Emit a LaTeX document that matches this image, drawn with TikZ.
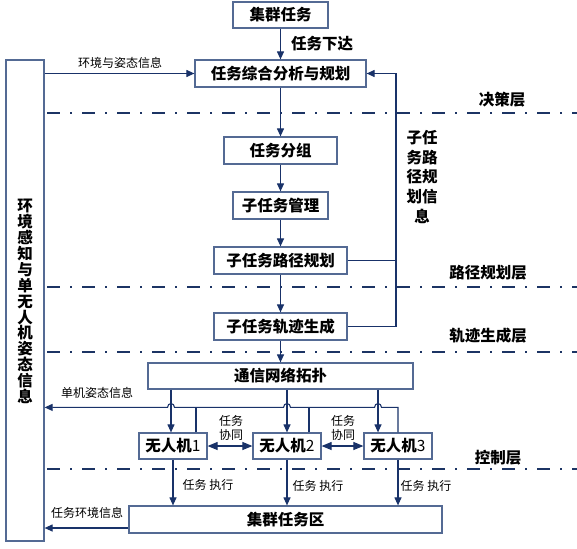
\documentclass[tikz,border=0pt]{standalone}
\usepackage{fontspec}
\setmainfont{Noto Sans CJK SC}
\usetikzlibrary{arrows.meta,calc}
\definecolor{boxc}{RGB}{84,106,148}
\definecolor{arrc}{RGB}{25,50,105}
\definecolor{layc}{RGB}{28,52,100}
\begin{document}
\begin{tikzpicture}[x=1pt,y=-1pt,
  box/.style={draw=boxc,line width=1.2pt,fill=white,inner sep=0pt,font=\bfseries\fontsize{15.5}{18}\selectfont},
  arr/.style={draw=arrc,line width=1.1pt,-{Triangle[length=8pt,width=7pt]}},
  darr/.style={draw=arrc,line width=1.1pt,{Triangle[length=10pt,width=8pt]}-{Triangle[length=10pt,width=8pt]}},
  ln/.style={draw=arrc,line width=1.1pt},
  lay/.style={draw=layc,line width=2pt,dash pattern=on 13pt off 10pt on 2pt off 10pt},
  small/.style={font=\fontsize{12}{14}\selectfont,inner sep=0pt,align=center},
  big/.style={font=\bfseries\fontsize{15.5}{18}\selectfont,inner sep=0pt,align=center}]
\useasboundingbox (0,0) rectangle (577,548);
% layer lines
\coordinate (L1s) at (47,113); \coordinate (L1e) at (577,113);
\coordinate (L2s) at (47,287); \coordinate (L2e) at (577,287);
\coordinate (L3s) at (47,352); \coordinate (L3e) at (577,352);
\coordinate (L4s) at (47,469); \coordinate (L4e) at (577,469);
\draw[lay] (L1s) -- (L1e);
\draw[lay] (L2s) -- (L2e);
\draw[lay] (L3s) -- (L3e);
\draw[lay] (L4s) -- (L4e);
% boxes
\node[box,minimum width=95pt,minimum height=26pt] (top) at (280.5,15) {集群任务};
\node[box,minimum width=171pt,minimum height=27pt] (plan) at (280.5,73.5) {任务综合分析与规划};
\node[box,minimum width=38pt,minimum height=481pt] (left) at (25,300.5) {};
\node[big,font=\bfseries\fontsize{15.5}{15.9}\selectfont] (lefttxt) at (25,301.5) {环\\境\\感\\知\\与\\单\\无\\人\\机\\姿\\态\\信\\息};
\node[box,minimum width=113pt,minimum height=27pt] (group) at (280.5,150.5) {任务分组};
\node[box,minimum width=95pt,minimum height=27pt] (manage) at (280.5,205.5) {子任务管理};
\node[box,minimum width=133pt,minimum height=27pt] (path) at (280.5,260.5) {子任务路径规划};
\node[box,minimum width=133pt,minimum height=27pt] (traj) at (280.5,326.5) {子任务轨迹生成};
\node[box,minimum width=265pt,minimum height=26pt] (comm) at (280.5,376) {通信网络拓扑};
\node[box,minimum width=68pt,minimum height=26pt] (u1) at (173,446) {无人机{\mdseries 1}};
\node[box,minimum width=68pt,minimum height=26pt] (u2) at (287,446) {无人机{\mdseries 2}};
\node[box,minimum width=68pt,minimum height=26pt] (u3) at (398,446) {无人机{\mdseries 3}};
\node[box,minimum width=313pt,minimum height=27pt] (area) at (285.5,519.5) {集群任务区};
% labels
\node[big] (lxd) at (322,44) {任务下达};
\node[big] (ljc) at (502,100) {决策层};
\node[big] (llj) at (488,273) {路径规划层};
\node[big] (lgj) at (488,336) {轨迹生成层};
\node[big] (lkz) at (498,458) {控制层};
\node[big,font=\bfseries\fontsize{15.5}{19.7}\selectfont] (lfb) at (422,177) {子任\\务路\\径规\\划信\\息};
\node[small] (lhj) at (120,63) {环境与姿态信息};
\node[small] (ldj) at (97,393) {单机姿态信息};
\node[small] (lrw) at (87,513) {任务环境信息};
\node[small] (lxt1) at (231,428) {任务\\协同};
\node[small] (lxt2) at (343,428) {任务\\协同};
\node[small] (lzx1) at (208,485) {任务 执行};
\node[small] (lzx2) at (318,486) {任务 执行};
\node[small] (lzx3) at (426,486) {任务 执行};
% main flow
\draw[arr] (top) -- (plan);
\draw[arr] (plan) -- (group);
\draw[arr] (group) -- (manage);
\draw[arr] (manage) -- (path);
\draw[arr] (path) -- (traj);
\draw[arr] (traj) -- (comm);
\draw[arr] (plan.west -| left.east) -- (plan.west);
% feedback
\coordinate (fb) at (396,73.5);
\draw[arr] (traj.east) -| (fb) -- (plan.east);
\draw[ln] (path.east) -- (path.east -| fb);
% comm to uavs
\coordinate (a1) at ($(u1.north)+(-2,0)$);
\coordinate (a2) at (u2.north);
\coordinate (a3) at ($(u3.north)+(-20,0)$);
\draw[arr] (comm.south -| a1) -- (a1);
\draw[arr] (comm.south -| a2) -- (a2);
\draw[arr] (comm.south -| a3) -- (a3);
% pose feedback with hops
\draw[arr] (u3.north) -- ++(0,-25) coordinate (h)
  -- ($(h -| a3)+(3.5,0)$) .. controls +(0,-5) and +(0,-5) .. ($(h -| a3)+(-3.5,0)$)
  -- ($(h -| a2)+(3.5,0)$) .. controls +(0,-5) and +(0,-5) .. ($(h -| a2)+(-3.5,0)$)
  -- ($(h -| a1)+(3.5,0)$) .. controls +(0,-5) and +(0,-5) .. ($(h -| a1)+(-3.5,0)$)
  -- (h -| left.east);
\coordinate (b1) at ($(u1.north)+(23,0)$);
\coordinate (b2) at ($(u2.north)+(22,0)$);
\draw[ln] (b1) -- (b1 |- h);
\draw[ln] (b2) -- (b2 |- h);
% cooperation
\draw[darr] (u1.east) -- (u2.west);
\draw[darr] (u2.east) -- (u3.west);
% execution
\draw[arr] (u1.south) -- (u1.south |- area.north);
\draw[arr] (u2.south) -- (u2.south |- area.north);
\draw[arr] (u3.south) -- (u3.south |- area.north);
\draw[arr] ([yshift=-8.5pt]area.west) -- ([yshift=-8.5pt]area.west -| left.east);
\end{tikzpicture}
\end{document}
